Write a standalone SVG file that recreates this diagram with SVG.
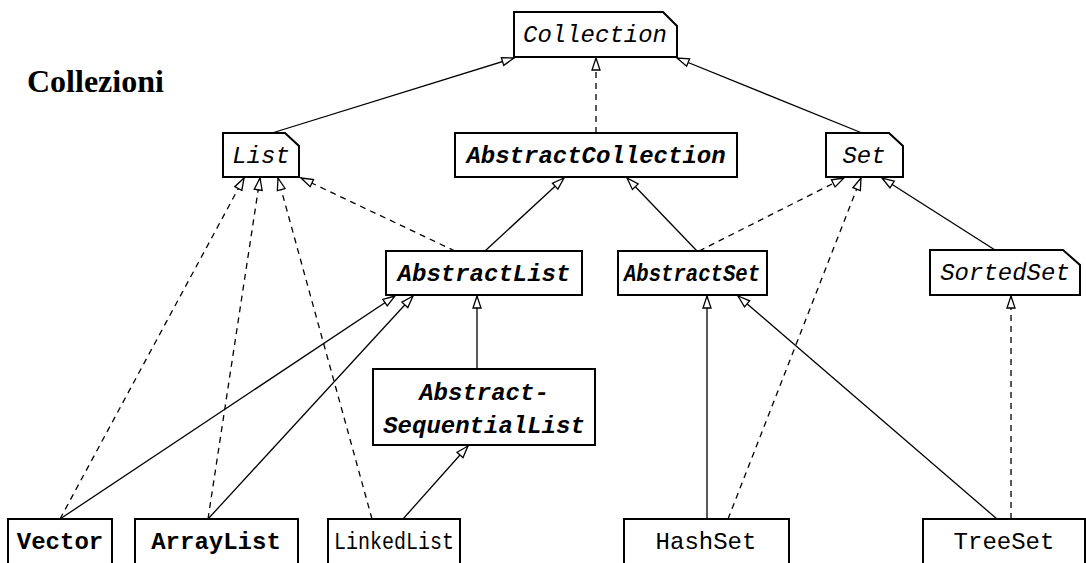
<svg xmlns="http://www.w3.org/2000/svg" width="1086" height="563" viewBox="0 0 1086 563">
  <style>
    .box { fill: #fff; stroke: #000; stroke-width: 2; }
    .lbl { font-family: "Liberation Mono", "DejaVu Sans Mono", monospace; font-size: 24px; fill: #000; text-anchor: middle; }
    .iface { font-style: italic; }
    .abs { font-style: italic; font-weight: bold; }
    .bold { font-weight: bold; }
    .solid { stroke: #000; stroke-width: 1.3; fill: none; marker-end: url(#tri); }
    .dash { stroke: #000; stroke-width: 1.3; fill: none; stroke-dasharray: 6 5; marker-end: url(#tri); }
    .title { font-family: "Liberation Serif", "Times New Roman", serif; font-size: 32px; font-weight: bold; fill: #000; }
  </style>
  <defs>
    <marker id="tri" viewBox="-13 -6 14 12" refX="0" refY="0" markerWidth="14" markerHeight="12" markerUnits="userSpaceOnUse" orient="auto">
      <path d="M0,0 L-12,-4 L-12,4 Z" fill="#fff" stroke="#000" stroke-width="1.3" stroke-linejoin="miter"/>
    </marker>
  </defs>
  <rect width="1086" height="563" fill="#fff"/>

  <text class="title" x="27" y="92">Collezioni</text>

  <!-- inheritance / implementation links -->
  <g id="connectors">
    <line class="solid" x1="272" y1="133" x2="514" y2="58"/>
    <line class="dash" x1="596" y1="133" x2="596" y2="58"/>
    <line class="solid" x1="862" y1="133" x2="677" y2="58"/>
    <line class="dash" x1="455" y1="251" x2="301" y2="178"/>
    <line class="solid" x1="485" y1="251" x2="564" y2="178"/>
    <line class="solid" x1="697" y1="251" x2="627" y2="178"/>
    <line class="dash" x1="699" y1="251" x2="844" y2="178"/>
    <line class="solid" x1="995" y1="250" x2="882" y2="178"/>
    <line class="dash" x1="60" y1="519" x2="244" y2="178"/>
    <line class="dash" x1="208" y1="519" x2="260" y2="178"/>
    <line class="dash" x1="372" y1="519" x2="278" y2="178"/>
    <line class="solid" x1="60" y1="519" x2="395" y2="296"/>
    <line class="solid" x1="208" y1="519" x2="413" y2="296"/>
    <line class="solid" x1="477" y1="369" x2="477" y2="296"/>
    <line class="solid" x1="403" y1="519" x2="468" y2="446"/>
    <line class="solid" x1="707" y1="519" x2="707" y2="296"/>
    <line class="dash" x1="728" y1="519" x2="861" y2="178"/>
    <line class="solid" x1="997" y1="519" x2="738" y2="296"/>
    <line class="dash" x1="1011" y1="519" x2="1011" y2="296"/>
  </g>

  <!-- interfaces (dog-eared corner) -->
  <g id="Collection">
    <polygon class="box" points="514,12 663,12 677,26 677,57 514,57"/>
    <text class="lbl iface" x="595" y="42">Collection</text>
  </g>
  <g id="List">
    <polygon class="box" points="223,133 285,133 299,146 299,177 223,177"/>
    <text class="lbl iface" x="261" y="163">List</text>
  </g>
  <g id="Set">
    <polygon class="box" points="826,133 889,133 903,146 903,177 826,177"/>
    <text class="lbl iface" x="864" y="163">Set</text>
  </g>
  <g id="SortedSet">
    <polygon class="box" points="930,250 1063,250 1080,265 1080,295 930,295"/>
    <text class="lbl iface" x="1005" y="280">SortedSet</text>
  </g>

  <!-- abstract classes -->
  <g id="AbstractCollection">
    <rect class="box" x="455" y="133" width="282" height="44"/>
    <text class="lbl abs" x="596" y="163">AbstractCollection</text>
  </g>
  <g id="AbstractList">
    <rect class="box" x="386" y="251" width="196" height="44"/>
    <text class="lbl abs" x="484" y="281">AbstractList</text>
  </g>
  <g id="AbstractSet">
    <rect class="box" x="618" y="251" width="149" height="44"/>
    <text class="lbl abs" x="692" y="281" textLength="136" lengthAdjust="spacingAndGlyphs">AbstractSet</text>
  </g>
  <g id="AbstractSequentialList">
    <rect class="box" x="373" y="369" width="222" height="76"/>
    <text class="lbl abs" x="484" y="400">Abstract-</text>
    <text class="lbl abs" x="484" y="433">SequentialList</text>
  </g>

  <!-- concrete classes -->
  <g id="Vector">
    <rect class="box" x="8" y="519" width="104" height="60"/>
    <text class="lbl bold" x="60" y="549">Vector</text>
  </g>
  <g id="ArrayList">
    <rect class="box" x="135" y="519" width="163" height="60"/>
    <text class="lbl bold" x="216" y="549">ArrayList</text>
  </g>
  <g id="LinkedList">
    <rect class="box" x="328" y="519" width="132" height="60"/>
    <text class="lbl" x="394" y="549" textLength="120" lengthAdjust="spacingAndGlyphs">LinkedList</text>
  </g>
  <g id="HashSet">
    <rect class="box" x="624" y="519" width="165" height="60"/>
    <text class="lbl" x="706" y="549">HashSet</text>
  </g>
  <g id="TreeSet">
    <rect class="box" x="923" y="519" width="162" height="60"/>
    <text class="lbl" x="1004" y="549">TreeSet</text>
  </g>
</svg>
